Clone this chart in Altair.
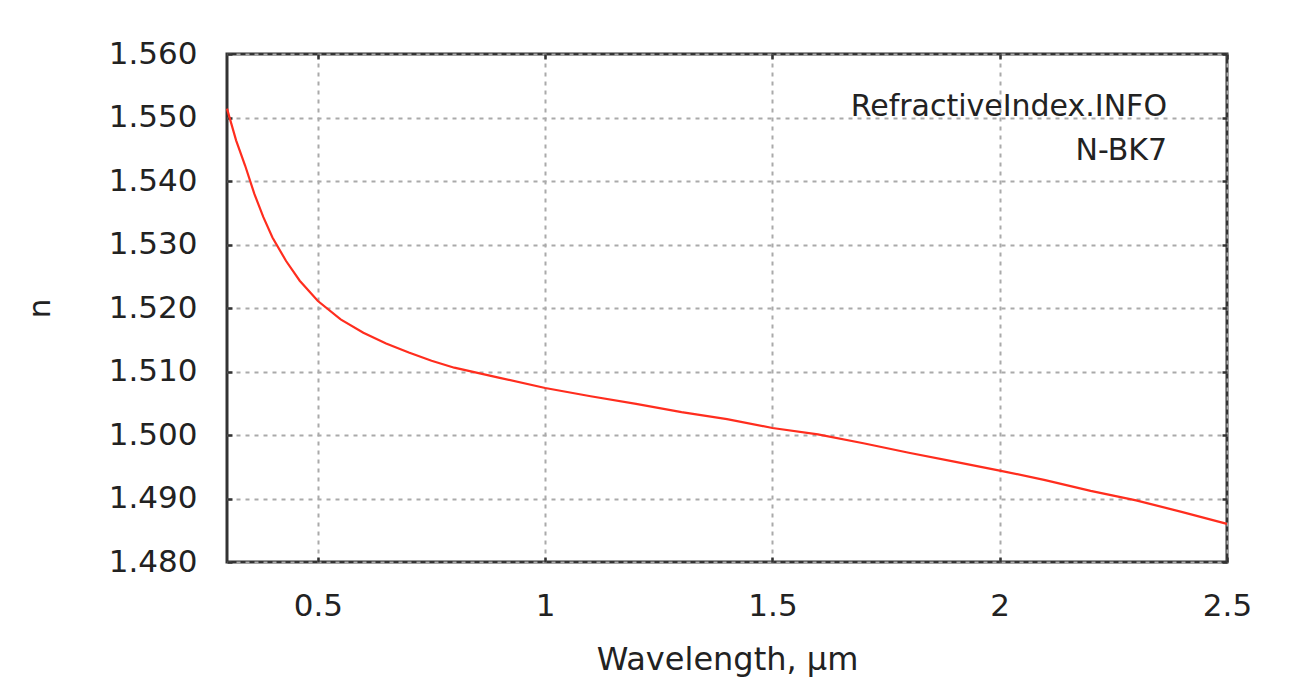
import altair as alt
import pandas as pd

# Wavelength (µm) and refractive index n
wavelength = [0.30, 0.32, 0.34, 0.36, 0.38, 0.40, 0.43, 0.46, 0.50, 0.55,
              0.60, 0.65, 0.70, 0.75, 0.80, 0.90, 1.00, 1.10, 1.20, 1.30,
              1.40, 1.50, 1.60, 1.70, 1.80, 1.90, 2.00, 2.10, 2.20, 2.30,
              2.40, 2.50]
n_index = [1.5514, 1.5464, 1.5424, 1.5380, 1.5343, 1.5311, 1.5274, 1.5243, 1.5211, 1.5182,
           1.5161, 1.5144, 1.5130, 1.5117, 1.5106, 1.5090, 1.5074, 1.5061, 1.5049, 1.5036,
           1.5025, 1.5011, 1.5001, 1.4987, 1.4972, 1.4958, 1.4944, 1.4929, 1.4912, 1.4897,
           1.4879, 1.4860]

x_ticks = [0.5, 1.0, 1.5, 2.0, 2.5]
y_ticks = [1.48, 1.49, 1.50, 1.51, 1.52, 1.53, 1.54, 1.55, 1.56]
annotation_lines = ["RefractiveIndex.INFO", "N-BK7"]

df = pd.DataFrame({"wavelength": wavelength, "n": n_index})

FONT = "DejaVu Sans"
TXT = "#222222"
FRAME = "#333333"

x_scale = alt.Scale(domain=[0.3, 2.5], nice=False, zero=False)
y_scale = alt.Scale(domain=[1.48, 1.56], nice=False, zero=False)

grid_style = dict(grid=True, gridColor="#aaaaaa", gridDash=[4, 5], gridWidth=2)

main = alt.Chart(df).mark_line(color="#ff2d1e", strokeWidth=2.2).encode(
    x=alt.X("wavelength:Q", scale=x_scale, axis=alt.Axis(
        orient="bottom", values=x_ticks, format="~g", title="Wavelength, µm",
        domain=False, ticks=True, tickSize=5, tickWidth=2.5, tickColor=FRAME, offset=-5,
        labelFont=FONT, labelFontSize=31, labelColor=TXT, labelPadding=29,
        labelFlush=False, labelOverlap=False,
        titleFont=FONT, titleFontSize=32, titleFontWeight="normal", titleColor=TXT,
        titlePadding=23, **grid_style)),
    y=alt.Y("n:Q", scale=y_scale, axis=alt.Axis(
        orient="left", values=y_ticks, format=".3f", title="n",
        domain=False, ticks=True, tickSize=5, tickWidth=2.5, tickColor=FRAME, offset=-5,
        labelFont=FONT, labelFontSize=31, labelColor=TXT, labelPadding=30,
        labelFlush=False, labelOverlap=False,
        titleFont=FONT, titleFontSize=31, titleFontWeight="normal", titleColor=TXT,
        titlePadding=52, **grid_style)),
)

frame = alt.Chart(df).mark_line(opacity=0).encode(
    x=alt.X("wavelength:Q", scale=x_scale, axis=alt.Axis(
        orient="top", values=x_ticks, labels=False, title="", grid=False,
        domain=False, ticks=True, tickSize=5, tickWidth=2.5, tickColor=FRAME, offset=-5)),
    y=alt.Y("n:Q", scale=y_scale, axis=alt.Axis(
        orient="right", values=y_ticks, labels=False, title="", grid=False,
        domain=False, ticks=True, tickSize=5, tickWidth=2.5, tickColor=FRAME, offset=-5)),
)

chart = alt.layer(main, frame).resolve_axis(
    x="independent", y="independent"
).properties(
    width=1000,
    height=508,
    padding={"left": 219, "top": 46, "right": 41, "bottom": 116},
    autosize=alt.AutoSizeParams(type="none"),
    title=alt.TitleParams(
        text=annotation_lines, orient="top", anchor="end", frame="group",
        align="right", baseline="top", font=FONT, fontSize=30, fontWeight="normal",
        color=TXT, lineHeight=44, offset=0, dx=-60, dy=128),
).configure_view(stroke=FRAME, strokeWidth=3)

chart.save("out.html", embed_options={"renderer": "svg", "actions": False})
